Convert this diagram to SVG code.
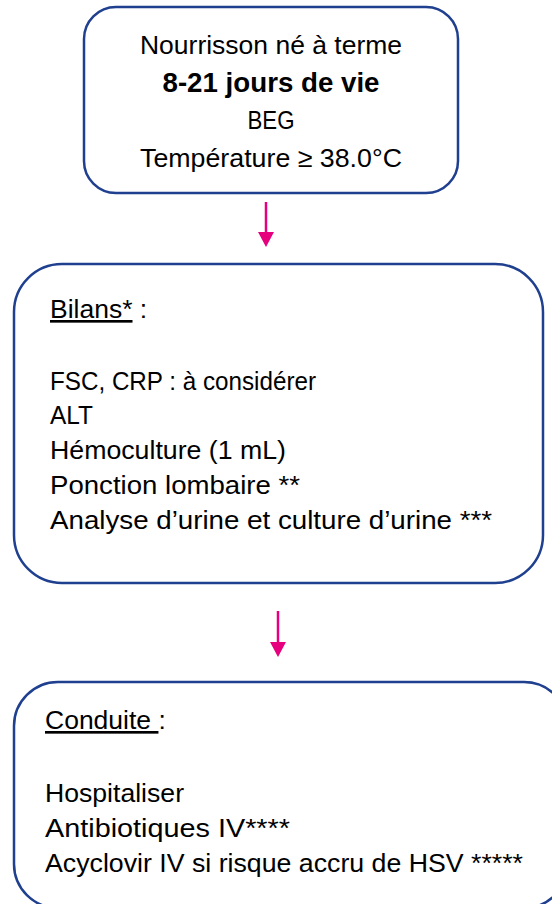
<svg xmlns="http://www.w3.org/2000/svg" width="552" height="904" viewBox="0 0 552 904">
  <defs>
    <style>
      .box { fill: #ffffff; stroke: #1F3F8F; stroke-width: 2.5; }
      .t { font-family: "Liberation Sans", Arial, sans-serif; font-size: 26.5px; fill: #000000; }
      .b { font-weight: bold; font-size: 28px; }
      .c { text-anchor: middle; }
      .u { text-decoration: underline; }
      .conn { stroke: #E6007E; stroke-width: 2.5; fill: none; }
      .head { fill: #E6007E; }
    </style>
  </defs>
  <rect width="552" height="904" fill="#ffffff"/>

  <g id="connectors">
    <path class="conn" d="M266,202 V232"/>
    <path class="head" d="M258,232 L274,232 L266,247 Z"/>
    <path class="conn" d="M278,611 V642"/>
    <path class="head" d="M270,642 L286,642 L278,657 Z"/>
  </g>

  <g id="node-patient">
    <rect class="box" x="84" y="7" width="374" height="186" rx="32" ry="32"/>
    <text class="t c" x="271" y="54" textLength="262" lengthAdjust="spacingAndGlyphs">Nourrisson né à terme</text>
    <text class="t c b" x="271" y="92" textLength="217" lengthAdjust="spacingAndGlyphs">8-21 jours de vie</text>
    <text class="t c" x="271" y="129" textLength="47" lengthAdjust="spacingAndGlyphs">BEG</text>
    <text class="t c" x="271" y="167" textLength="262" lengthAdjust="spacingAndGlyphs">Température ≥ 38.0°C</text>
  </g>

  <g id="node-bilans">
    <rect class="box" x="14" y="264" width="529" height="319" rx="48" ry="48"/>
    <text class="t" x="50" y="318"><tspan class="u">Bilans*</tspan> :</text>
    <text class="t" x="50" y="390" textLength="266" lengthAdjust="spacingAndGlyphs">FSC, CRP : à considérer</text>
    <text class="t" x="50" y="424" textLength="43" lengthAdjust="spacingAndGlyphs">ALT</text>
    <text class="t" x="50" y="459" textLength="236" lengthAdjust="spacingAndGlyphs">Hémoculture (1 mL)</text>
    <text class="t" x="50" y="494" textLength="250" lengthAdjust="spacingAndGlyphs">Ponction lombaire **</text>
    <text class="t" x="50" y="529" textLength="442" lengthAdjust="spacingAndGlyphs">Analyse d’urine et culture d’urine ***</text>
  </g>

  <g id="node-conduite">
    <rect class="box" x="14" y="682" width="554" height="226" rx="44" ry="44"/>
    <text class="t" x="45" y="729"><tspan class="u">Conduite </tspan>:</text>
    <text class="t" x="45" y="802" textLength="139" lengthAdjust="spacingAndGlyphs">Hospitaliser</text>
    <text class="t" x="45" y="837" textLength="245" lengthAdjust="spacingAndGlyphs">Antibiotiques IV****</text>
    <text class="t" x="45" y="872" textLength="478" lengthAdjust="spacingAndGlyphs">Acyclovir IV si risque accru de HSV *****</text>
  </g>
</svg>
